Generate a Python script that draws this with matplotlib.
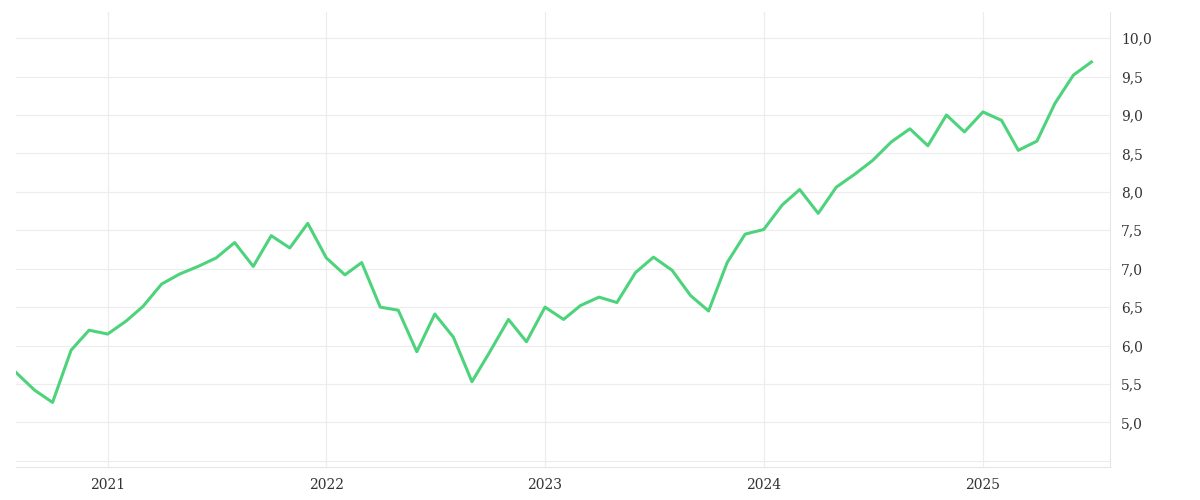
import numpy as np
import pandas as pd
import matplotlib
matplotlib.use("Agg")
import matplotlib.pyplot as plt
import matplotlib.dates as mdates
from matplotlib.ticker import FuncFormatter, MultipleLocator

dates = pd.date_range("2020-08-01", periods=60, freq="MS")
values = [5.65, 5.42, 5.26, 5.94, 6.20,
          6.15, 6.32, 6.51, 6.80, 6.93, 7.03, 7.14, 7.34, 7.03, 7.43, 7.27, 7.59,
          7.14, 6.92, 7.08, 6.50, 6.46, 5.92, 6.41, 6.11, 5.53, 5.92, 6.34, 6.05,
          6.50, 6.34, 6.52, 6.63, 6.56, 6.95, 7.15, 6.98, 6.65, 6.45, 7.08, 7.45,
          7.51, 7.83, 8.03, 7.72, 8.06, 8.23, 8.41, 8.65, 8.82, 8.60, 9.00, 8.78,
          9.04, 8.93, 8.54, 8.66, 9.15, 9.52, 9.69]

fig = plt.figure(figsize=(12, 5), dpi=100)
ax = fig.add_axes([16/1200, 1 - 467/500, (1110-16)/1200, (467-12)/500])
ax.plot(dates, values, color="#4cd37b", lw=2.2)

ax.set_xlim(pd.Timestamp("2020-08-01"), pd.Timestamp("2025-08-01"))
ax.set_ylim(4.42, 10.34)
ax.yaxis.set_major_locator(MultipleLocator(0.5))
ax.yaxis.set_major_formatter(FuncFormatter(
    lambda v, p: f"{v:.1f}".replace(".", ",") if v >= 4.9 else ""))
ax.xaxis.set_major_locator(mdates.YearLocator())
ax.xaxis.set_major_formatter(mdates.DateFormatter("%Y"))
ax.yaxis.tick_right()
ax.grid(True, color="#ececec", lw=0.8)
for s in ["top", "left"]:
    ax.spines[s].set_visible(False)
ax.spines["right"].set_color("#e6e6e6")
ax.spines["bottom"].set_color("#e6e6e6")
ax.tick_params(length=0, labelsize=10, colors="#333333", pad=8)
for lab in ax.get_xticklabels() + ax.get_yticklabels():
    lab.set_family("DejaVu Serif")

fig.savefig("out.png", dpi=100)
